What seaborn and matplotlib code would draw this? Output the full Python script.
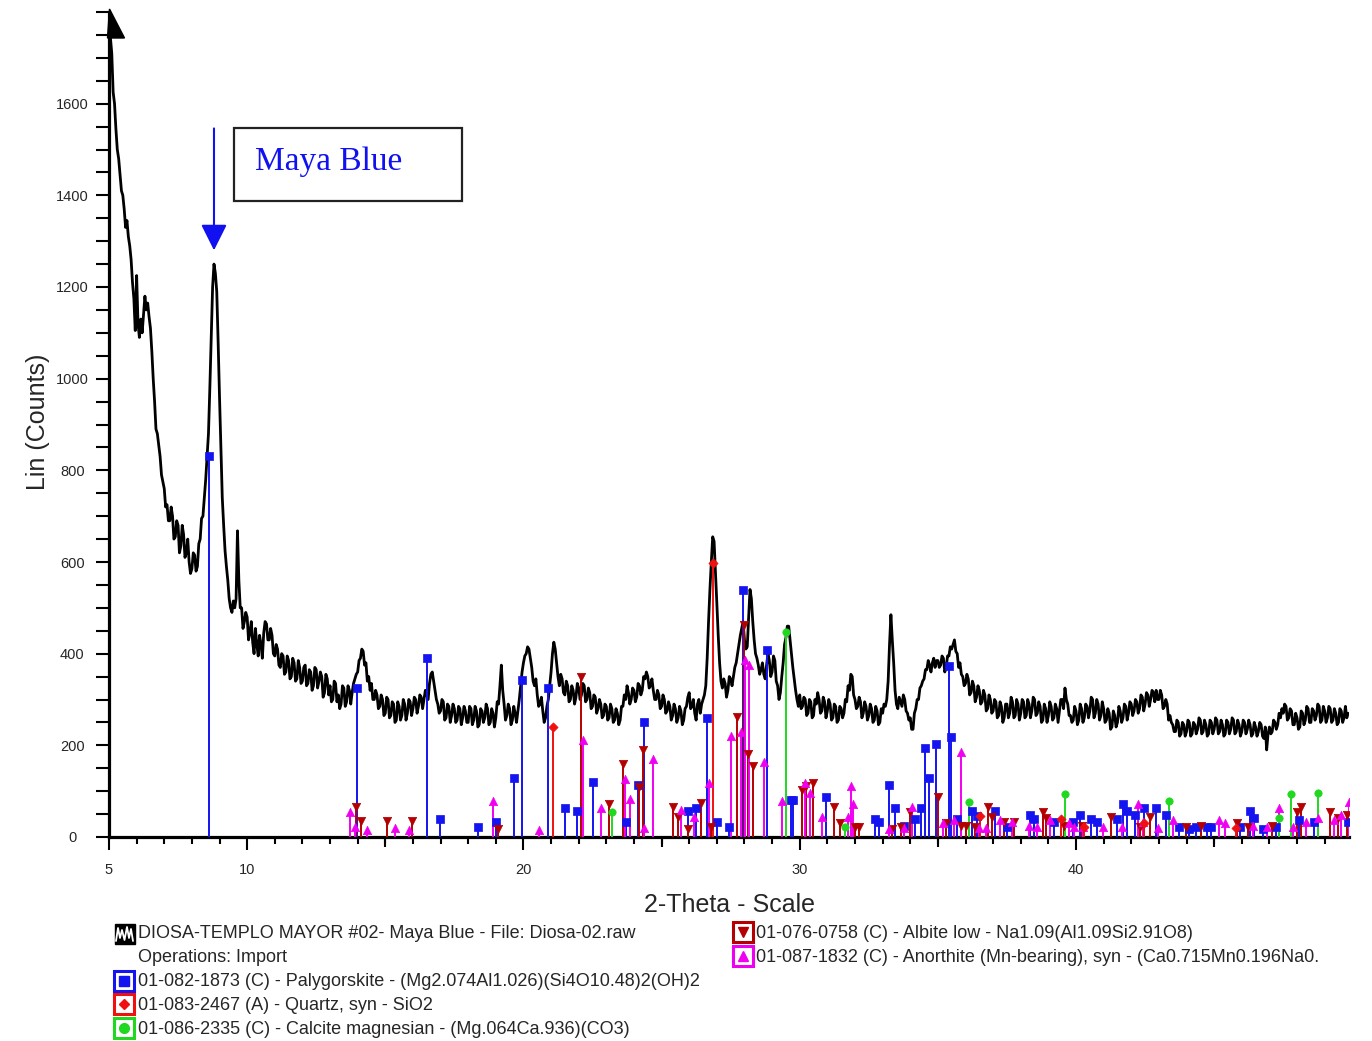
import numpy as np
import pandas as pd
import matplotlib
matplotlib.use("Agg")
import matplotlib.pyplot as plt
import seaborn as sns
from matplotlib.patches import Rectangle, Polygon
from matplotlib.ticker import MultipleLocator, FixedLocator

# ---------------- data ----------------
# XRD counts, one row per degree 2-theta, step 0.05
two_theta_step = 0.05
first_degree = 5
counts_rows = [
    [1790, 1745, 1710, 1625, 1600, 1545, 1500, 1480, 1445, 1410, 1400, 1370, 1330, 1345, 1310, 1290, 1260, 1210, 1175, 1105],
    [1225, 1120, 1090, 1130, 1100, 1140, 1180, 1150, 1165, 1135, 1110, 1060, 1000, 950, 890, 880, 855, 830, 790, 775],
    [760, 720, 725, 690, 690, 720, 700, 650, 655, 690, 680, 620, 635, 680, 660, 610, 620, 650, 600, 575],
    [585, 620, 615, 580, 590, 640, 650, 695, 700, 740, 780, 830, 880, 980, 1090, 1200, 1250, 1230, 1190, 1080],
    [960, 850, 740, 680, 625, 590, 560, 520, 500, 490, 515, 500, 520, 668, 560, 500, 500, 455, 470, 490],
    [480, 430, 445, 470, 425, 400, 455, 420, 395, 440, 420, 390, 445, 470, 465, 430, 430, 455, 440, 400],
    [395, 420, 410, 375, 370, 400, 395, 355, 360, 395, 385, 345, 350, 390, 380, 340, 345, 385, 370, 335],
    [340, 370, 375, 330, 335, 365, 360, 320, 330, 370, 365, 325, 340, 360, 350, 305, 315, 355, 345, 310],
    [330, 295, 300, 340, 335, 295, 310, 280, 290, 330, 325, 285, 295, 330, 320, 290, 315, 335, 345, 355],
    [360, 385, 390, 410, 405, 375, 380, 340, 350, 320, 335, 300, 300, 320, 310, 280, 285, 310, 300, 265],
    [270, 305, 300, 260, 265, 295, 290, 250, 255, 295, 285, 255, 265, 300, 290, 255, 270, 300, 295, 265],
    [280, 305, 300, 270, 285, 310, 305, 280, 300, 320, 310, 300, 335, 355, 360, 340, 320, 300, 290, 270],
    [275, 300, 295, 255, 260, 290, 285, 250, 265, 290, 280, 250, 255, 285, 280, 245, 260, 285, 275, 250],
    [250, 285, 280, 245, 255, 285, 275, 240, 245, 280, 275, 250, 260, 290, 280, 245, 250, 280, 270, 240],
    [260, 295, 290, 330, 375, 320, 290, 255, 265, 290, 280, 245, 255, 285, 270, 250, 275, 300, 330, 360],
    [380, 395, 400, 415, 410, 390, 370, 340, 330, 345, 310, 285, 290, 305, 275, 250, 260, 285, 300, 330],
    [360, 400, 425, 410, 380, 350, 330, 355, 345, 315, 310, 340, 330, 295, 300, 330, 320, 290, 305, 335],
    [325, 300, 310, 335, 330, 295, 300, 325, 315, 280, 285, 310, 305, 270, 280, 300, 290, 260, 265, 290],
    [285, 255, 260, 290, 280, 250, 255, 280, 270, 245, 255, 285, 285, 310, 300, 330, 315, 290, 300, 325],
    [320, 295, 305, 335, 330, 310, 320, 350, 345, 360, 350, 325, 330, 345, 320, 300, 300, 320, 310, 280],
    [285, 310, 300, 270, 275, 295, 285, 255, 265, 290, 280, 250, 260, 285, 275, 245, 255, 280, 285, 305],
    [315, 280, 285, 300, 270, 255, 290, 300, 270, 290, 300, 310, 330, 390, 470, 540, 600, 655, 645, 580],
    [510, 440, 380, 340, 325, 345, 335, 305, 320, 350, 345, 330, 350, 370, 380, 400, 420, 440, 455, 470],
    [430, 410, 415, 480, 540, 520, 470, 430, 400, 390, 375, 355, 365, 380, 355, 345, 375, 400, 385, 350],
    [360, 395, 385, 340, 330, 300, 315, 350, 380, 420, 435, 460, 460, 430, 400, 370, 345, 320, 300, 285],
    [310, 280, 285, 305, 300, 265, 270, 300, 295, 260, 265, 300, 290, 315, 300, 270, 275, 305, 295, 260],
    [275, 300, 290, 255, 260, 290, 285, 250, 255, 285, 280, 260, 270, 300, 295, 330, 320, 355, 350, 310],
    [300, 280, 285, 305, 295, 260, 270, 295, 285, 255, 265, 290, 280, 250, 255, 285, 275, 245, 250, 280],
    [270, 290, 285, 300, 340, 420, 485, 430, 380, 320, 290, 280, 305, 295, 285, 310, 300, 275, 270, 255],
    [260, 235, 235, 270, 280, 300, 300, 325, 330, 340, 345, 365, 365, 385, 375, 360, 380, 390, 370, 385],
    [385, 370, 375, 395, 390, 360, 370, 395, 395, 415, 410, 420, 430, 405, 400, 370, 380, 355, 350, 330],
    [335, 355, 345, 310, 315, 340, 330, 295, 305, 330, 320, 290, 295, 320, 310, 275, 280, 310, 300, 270],
    [275, 300, 295, 260, 265, 295, 285, 250, 260, 290, 290, 260, 270, 305, 295, 260, 265, 300, 290, 255],
    [270, 300, 295, 260, 265, 300, 290, 260, 275, 305, 300, 265, 270, 295, 285, 250, 255, 290, 280, 250],
    [265, 295, 285, 255, 260, 290, 280, 250, 275, 300, 300, 280, 325, 300, 290, 265, 265, 250, 255, 285],
    [275, 245, 255, 290, 280, 250, 260, 290, 285, 260, 275, 305, 300, 260, 270, 300, 290, 255, 265, 295],
    [280, 250, 255, 280, 270, 235, 240, 275, 265, 240, 250, 285, 275, 250, 260, 290, 285, 255, 270, 295],
    [290, 265, 275, 300, 295, 270, 280, 310, 305, 275, 290, 315, 310, 285, 300, 320, 315, 295, 320, 300],
    [300, 320, 310, 280, 285, 300, 290, 255, 265, 250, 245, 230, 230, 255, 250, 220, 225, 250, 245, 220],
    [230, 255, 250, 220, 225, 250, 245, 225, 235, 260, 255, 225, 230, 255, 245, 220, 225, 255, 250, 225],
    [235, 260, 255, 225, 230, 255, 245, 220, 225, 255, 250, 225, 235, 260, 255, 225, 230, 255, 245, 220],
    [230, 255, 250, 225, 235, 255, 245, 220, 225, 250, 240, 220, 230, 250, 245, 220, 215, 240, 190, 225],
    [240, 225, 230, 255, 250, 235, 245, 270, 260, 280, 270, 290, 285, 255, 260, 280, 275, 245, 245, 270],
    [260, 235, 240, 275, 270, 245, 255, 285, 280, 250, 250, 280, 275, 255, 265, 290, 285, 250, 255, 285],
    [275, 250, 260, 285, 280, 250, 255, 280, 270, 245, 250, 280, 275, 250, 260, 285, 260, 270],
]

# Palygorskite (blue squares)
pal_pos = [8.62, 13.96, 16.5, 16.98, 18.34, 18.99, 19.67, 19.93, 20.88, 21.5,
           21.95, 22.53, 23.71, 24.16, 24.36, 25.94, 26.24, 26.63, 26.99, 27.44,
           27.96, 28.8, 29.7, 29.77, 30.94, 32.74, 32.87, 33.24, 33.46, 33.76,
           34.19, 34.38, 34.53, 34.67, 34.93, 35.4, 35.49, 35.69, 36.23, 36.4,
           37.07, 37.51, 38.33, 38.47, 39.21, 39.88, 40.13, 40.56, 40.77, 41.48,
           41.69, 41.86, 42.15, 42.47, 42.91, 43.27, 43.71, 44.1, 44.35, 44.74,
           44.87, 45.95, 46.31, 46.44, 46.78, 47.23, 48.06, 48.61, 49.85]
pal_h = [831, 326, 390, 39, 22, 32, 129, 342, 326, 64,
         57, 121, 32, 113, 251, 57, 64, 260, 32, 22,
         538, 408, 81, 81, 88, 39, 33, 113, 64, 25,
         39, 64, 195, 129, 202, 374, 219, 39, 57, 46,
         57, 22, 48, 39, 32, 32, 48, 39, 32, 39,
         73, 57, 48, 64, 64, 48, 22, 17, 22, 22,
         22, 22, 57, 41, 17, 22, 37, 33, 33]

# Quartz (red diamonds)
qtz_pos = [21.08, 26.87, 36.54, 39.46, 40.29, 42.45, 45.79]
qtz_h = [241, 597, 45, 40, 22, 30, 20]

# Calcite magnesian (green circles)
cal_pos = [23.21, 29.52, 31.63, 36.14, 39.6, 43.37, 47.33, 47.77, 48.76]
cal_h = [54, 448, 22, 76, 93, 79, 41, 93, 97]

# Albite low (dark red down-triangles)
alb_pos = [13.94, 14.12, 15.05, 15.95, 19.09, 22.1, 23.1, 23.59, 24.19, 24.34,
           25.42, 25.58, 25.97, 26.43, 26.79, 27.74, 27.99, 28.11, 28.32, 30.1,
           30.22, 30.49, 31.24, 31.47, 32.01, 32.14, 33.33, 33.68, 33.99, 35.02,
           35.31, 35.82, 36.0, 36.36, 36.81, 36.96, 37.38, 37.77, 38.79, 38.92,
           39.56, 40.2, 41.28, 42.31, 42.69, 43.97, 44.54, 45.82, 46.21, 47.1,
           48.0, 48.13, 49.21, 49.47, 49.79]
alb_h = [66, 35, 35, 35, 17, 350, 71, 159, 110, 190,
         66, 43, 17, 75, 22, 261, 462, 181, 155, 103,
         112, 117, 66, 31, 22, 22, 17, 22, 54, 88,
         31, 25, 25, 22, 66, 44, 33, 33, 54, 41,
         25, 25, 44, 22, 44, 22, 25, 31, 22, 25,
         54, 66, 54, 41, 49]

# Anorthite (magenta up-triangles)
ano_pos = [13.72, 13.9, 14.33, 15.35, 15.87, 18.9, 20.57, 22.14, 22.79, 23.68,
           23.86, 24.38, 24.68, 25.72, 26.19, 26.72, 27.51, 27.87, 28.02, 28.17,
           28.71, 29.36, 30.18, 30.36, 30.8, 31.76, 31.86, 31.92, 33.23, 33.76,
           34.08, 35.18, 35.57, 35.85, 36.49, 36.74, 37.25, 37.7, 38.28, 38.6,
           39.05, 39.75, 39.94, 40.26, 40.96, 41.67, 42.24, 42.43, 42.95, 43.52,
           45.18, 45.38, 46.4, 46.91, 47.36, 47.87, 48.32, 48.76, 49.34, 49.6, 49.88]
ano_h = [54, 22, 15, 19, 15, 79, 15, 212, 63, 126,
         82, 20, 171, 59, 44, 118, 220, 230, 386, 375,
         163, 79, 118, 95, 44, 44, 112, 73, 17, 20,
         66, 30, 37, 186, 19, 19, 37, 33, 25, 22,
         37, 30, 22, 22, 22, 22, 73, 33, 19, 37,
         37, 30, 25, 22, 63, 22, 33, 41, 37, 48, 77]

x_tick_values = [5, 10, 20, 30, 40]
y_tick_values = [0, 200, 400, 600, 800, 1000, 1200, 1400, 1600]

sample_label = "DIOSA-TEMPLO MAYOR #02- Maya Blue - File: Diosa-02.raw"
operations_label = "Operations: Import"
phase_labels = {
    "pal": "01-082-1873 (C) - Palygorskite - (Mg2.074Al1.026)(Si4O10.48)2(OH)2",
    "qtz": "01-083-2467 (A) - Quartz, syn - SiO2",
    "cal": "01-086-2335 (C) - Calcite magnesian - (Mg.064Ca.936)(CO3)",
    "alb": "01-076-0758 (C) - Albite low - Na1.09(Al1.09Si2.91O8)",
    "ano": "01-087-1832 (C) - Anorthite (Mn-bearing), syn - (Ca0.715Mn0.196Na0.",
}

# ---------------- style ----------------
sns.set_theme(style="ticks")
plt.rcParams["font.family"] = ["Liberation Sans", "DejaVu Sans"]

W, H = 1372, 1041
fig = plt.figure(figsize=(W / 100, H / 100), dpi=100)
fig.patch.set_facecolor("white")
ax = fig.add_axes([109 / W, 1 - 837 / H, (1349 - 109) / W, (837 - 12) / H])
ax.set_facecolor("white")

two_theta = np.concatenate([first_degree + i + two_theta_step * np.arange(len(r))
                            for i, r in enumerate(counts_rows)])
counts = np.concatenate([np.asarray(r, dtype=float) for r in counts_rows])
df = pd.DataFrame({"two_theta": two_theta, "counts": counts})
sns.lineplot(data=df, x="two_theta", y="counts", color="black", lw=2.0,
             estimator=None, sort=False, ax=ax, zorder=2)

phases = [
    (pal_pos, pal_h, "#1414F0", "s", 26),
    (alb_pos, alb_h, "#B40000", "v", 36),
    (ano_pos, ano_h, "#F000F0", "^", 36),
    (qtz_pos, qtz_h, "#F01010", "D", 22),
    (cal_pos, cal_h, "#20D820", "o", 28),
]
for pos, h, col, mk, s in phases:
    ax.vlines(pos, 0, h, colors=col, lw=1.4, zorder=3)
    sns.scatterplot(x=pos, y=h, marker=mk, color=col, edgecolor=col, s=s,
                    linewidth=0.5, ax=ax, zorder=4, legend=False)

ax.set_xlim(5, 49.88)
ax.set_ylim(0, 1800)

for side in ["top", "right"]:
    ax.spines[side].set_visible(False)
for side in ["left", "bottom"]:
    ax.spines[side].set_linewidth(2.3)
    ax.spines[side].set_color("black")

ax.xaxis.set_major_locator(FixedLocator(x_tick_values))
ax.xaxis.set_minor_locator(MultipleLocator(1))
ax.yaxis.set_major_locator(FixedLocator(y_tick_values))
ax.yaxis.set_minor_locator(MultipleLocator(50))
ax.set_xticklabels([str(v) for v in x_tick_values])
ax.set_yticklabels([str(v) for v in y_tick_values])
ax.tick_params(axis="x", which="major", length=9.5, width=1.5, color="black",
               labelsize=10.5, pad=9, direction="out")
ax.tick_params(axis="x", which="minor", length=5, width=1.5, color="black", direction="out")
ax.tick_params(axis="y", which="both", length=9.5, width=1.5, color="black",
               labelsize=10.5, pad=17, direction="out")
for lab in ax.get_yticklabels():
    lab.set_horizontalalignment("center")
# medium ticks at every 5 degrees
ax.plot([15, 25, 35, 45], [0, 0, 0, 0], linestyle="none", marker=3, ms=7.5,
        mew=1.5, color="black", transform=ax.get_xaxis_transform(), clip_on=False)

ax.set_xlabel("2-Theta - Scale", fontsize=18)
ax.set_ylabel("Lin (Counts)", fontsize=18)
ax.xaxis.set_label_coords(0.5, (837 - 905) / 825)
ax.xaxis.label.set_va("center")
ax.yaxis.set_label_coords((38 - 109) / 1240, (837 - 422) / 825)
ax.yaxis.label.set_va("center")

# Maya Blue annotation
peak_win = (two_theta > 8) & (two_theta < 9.5)
peak_x = two_theta[peak_win][np.argmax(counts[peak_win])]
ax.annotate("", xy=(peak_x, 1280), xytext=(peak_x, 1546),
            arrowprops=dict(arrowstyle="-|>,head_length=0.8,head_width=0.4",
                            color="#1010F0", lw=1.5, mutation_scale=20,
                            shrinkA=0, shrinkB=0), zorder=5)
ax.add_patch(Rectangle((9.52, 1387), 8.26, 159, fill=False, ec="#222222", lw=1.6, zorder=5))
ax.text(10.28, 1474, "Maya Blue", color="#1010F0", fontsize=24,
        family="Liberation Serif", va="center", ha="left", zorder=6)

# ---------------- overlay (axis arrow + legend) ----------------
ov = fig.add_axes([0, 0, 1, 1], zorder=5)
ov.set_xlim(0, W)
ov.set_ylim(H, 0)
ov.axis("off")
ov.patch.set_alpha(0)

ov.add_patch(Polygon([(109.5, 9), (107.5, 38), (124.5, 38)], closed=True,
                     fc="black", ec="black", lw=1))

legend_fs = 13


def icon(cx, cy, col, mk, ms):
    ov.plot([cx], [cy], marker="s", ms=14, mfc="white", mec=col, mew=2.2, ls="none")
    ov.plot([cx], [cy], marker=mk, ms=ms, color=col, ls="none")


# sample icon
ov.plot([124.5], [934], marker="s", ms=15, color="black", ls="none")
ov.plot([116, 118, 120, 122, 124.5, 127, 129, 131, 133],
        [941, 928, 938, 930, 940, 927, 938, 929, 941], color="white", lw=1.3)
ov.text(138, 934, sample_label, fontsize=legend_fs, va="center", ha="left")
ov.text(138, 958, operations_label, fontsize=legend_fs, va="center", ha="left")

icon(124, 981, "#1414F0", "s", 6.5)
ov.text(138, 982, phase_labels["pal"], fontsize=legend_fs, va="center", ha="left")
icon(124, 1004, "#F01010", "D", 5.5)
ov.text(138, 1006, phase_labels["qtz"], fontsize=legend_fs, va="center", ha="left")
icon(124, 1028, "#20D820", "o", 7)
ov.text(138, 1029, phase_labels["cal"], fontsize=legend_fs, va="center", ha="left")

icon(743, 932, "#B40000", "v", 7.5)
ov.text(756, 934, phase_labels["alb"], fontsize=legend_fs, va="center", ha="left")
icon(743, 956, "#F000F0", "^", 7.5)
ov.text(756, 958, phase_labels["ano"], fontsize=legend_fs, va="center", ha="left")

fig.savefig("out.png", dpi=100, facecolor="white")
